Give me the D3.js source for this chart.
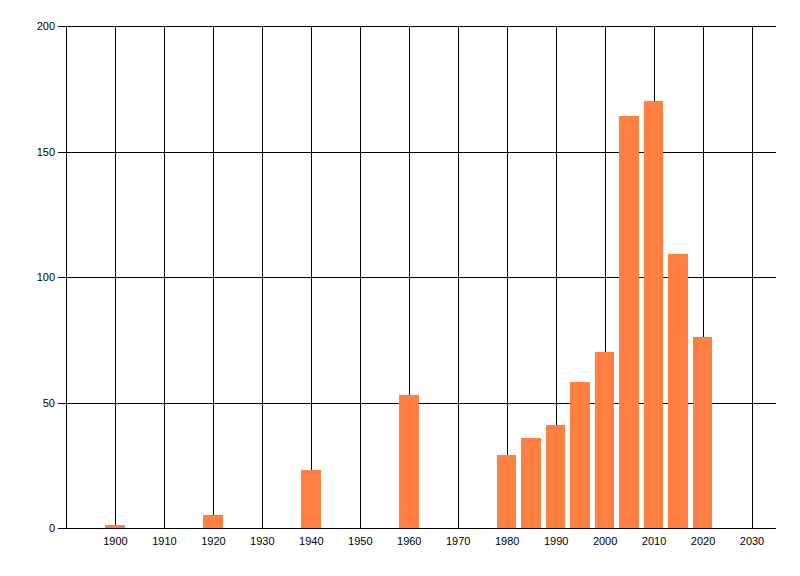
<!DOCTYPE html>
<html><head><meta charset="utf-8">
<script src="https://cdn.jsdelivr.net/npm/d3@7"></script>
<style>body{margin:0;background:#fff}svg{display:block}text{font-family:"Liberation Sans",Arial,sans-serif;font-size:11px;fill:#000}</style>
</head><body><svg id="c" width="800" height="576"></svg>
<script>
const years = [1900, 1920, 1940, 1960, 1980, 1985, 1990, 1995, 2000, 2005, 2010, 2015, 2020];
const values = [1, 5, 23, 53, 29, 36, 41, 58, 70, 164, 170, 109, 76];
const xTicks = [1900, 1910, 1920, 1930, 1940, 1950, 1960, 1970, 1980, 1990, 2000, 2010, 2020, 2030];
const yTicks = [0, 50, 100, 150, 200];

const svg = d3.select("#c");
const x = d3.scaleLinear().domain([1890, 2035]).range([66, 776]);
const y = d3.scaleLinear().domain([0, 200]).range([528, 26]);
const barHalf = 2;

const g = svg.append("g").attr("shape-rendering", "crispEdges");
// vertical grid
g.selectAll(".vg").data(xTicks).join("line")
  .attr("x1", d => Math.round(x(d)) + 0.5).attr("x2", d => Math.round(x(d)) + 0.5)
  .attr("y1", y(200)).attr("y2", y(0)).attr("stroke", "#000");
// horizontal grid
g.selectAll(".hg").data(yTicks).join("line")
  .attr("x1", 58).attr("x2", x(2035))
  .attr("y1", d => Math.round(y(d)) + 0.5).attr("y2", d => Math.round(y(d)) + 0.5).attr("stroke", "#000");
// left axis
g.append("line").attr("x1", 66.5).attr("x2", 66.5).attr("y1", y(200)).attr("y2", y(0) + 1).attr("stroke", "#000");

// bars
svg.append("g").attr("shape-rendering", "crispEdges").selectAll("rect").data(years).join("rect")
  .attr("x", d => Math.round(x(d - barHalf)))
  .attr("width", d => Math.round(x(d + barHalf)) - Math.round(x(d - barHalf)))
  .attr("y", (d, i) => Math.round(y(values[i])))
  .attr("height", (d, i) => Math.round(y(0)) - Math.round(y(values[i])))
  .attr("fill", "#FF8040");

// y labels
svg.append("g").selectAll("text").data(yTicks).join("text")
  .attr("x", 55).attr("y", d => y(d) + 4).attr("text-anchor", "end").text(d => d);
// x labels
svg.append("g").selectAll("text").data(xTicks).join("text")
  .attr("x", d => x(d) + 0.5).attr("y", 545).attr("text-anchor", "middle").text(d => d);
</script></body></html>
